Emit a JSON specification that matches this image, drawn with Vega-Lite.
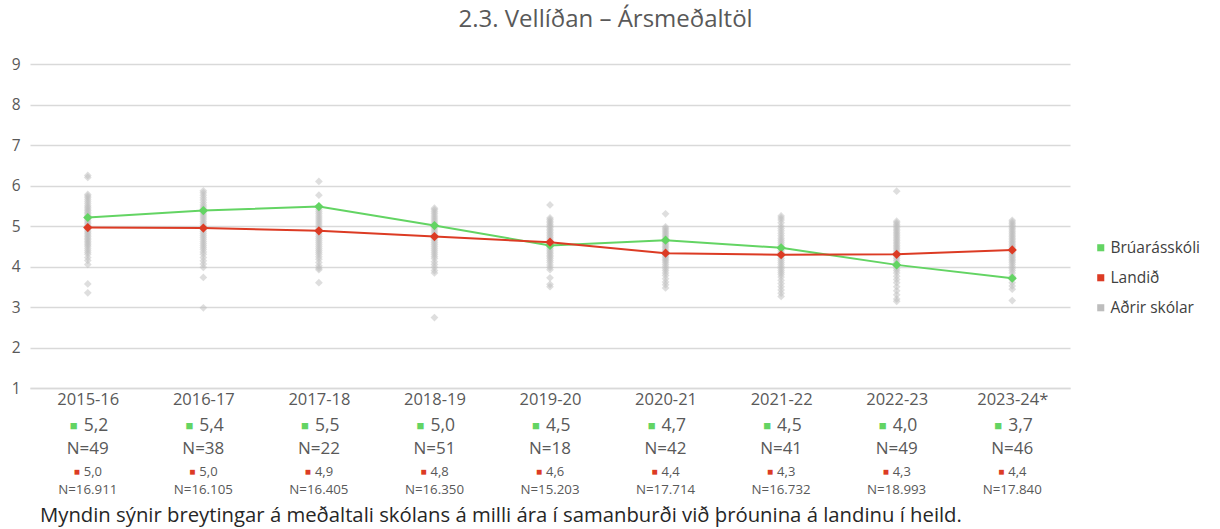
{
  "$schema": "https://vega.github.io/schema/vega-lite/v6.json",
  "background": "white",
  "padding": {"left": 11, "top": 8, "right": 5, "bottom": 5},
  "title": {"text": "2.3. Vellíðan – Ársmeðaltöl", "fontSize": 24, "font": "Open Sans", "fontWeight": "normal", "color": "#595959", "anchor": "middle", "offset": 25},
  "config": {"view": {"stroke": null}, "font": "Open Sans"},
  "spacing": 9,
  "datasets": {
    "series": [
      {"year": "2015-16", "series": "Brúarásskóli", "v": 5.21},
      {"year": "2016-17", "series": "Brúarásskóli", "v": 5.38},
      {"year": "2017-18", "series": "Brúarásskóli", "v": 5.48},
      {"year": "2018-19", "series": "Brúarásskóli", "v": 5.01},
      {"year": "2019-20", "series": "Brúarásskóli", "v": 4.52},
      {"year": "2020-21", "series": "Brúarásskóli", "v": 4.65},
      {"year": "2021-22", "series": "Brúarásskóli", "v": 4.46},
      {"year": "2022-23", "series": "Brúarásskóli", "v": 4.04},
      {"year": "2023-24*", "series": "Brúarásskóli", "v": 3.71},
      {"year": "2015-16", "series": "Landið", "v": 4.96},
      {"year": "2016-17", "series": "Landið", "v": 4.95},
      {"year": "2017-18", "series": "Landið", "v": 4.88},
      {"year": "2018-19", "series": "Landið", "v": 4.74},
      {"year": "2019-20", "series": "Landið", "v": 4.6},
      {"year": "2020-21", "series": "Landið", "v": 4.33},
      {"year": "2021-22", "series": "Landið", "v": 4.29},
      {"year": "2022-23", "series": "Landið", "v": 4.3},
      {"year": "2023-24*", "series": "Landið", "v": 4.41}
    ],
    "labels": [
      {"year": "2015-16", "s": "5,2", "sn": "N=49", "l": "5,0", "ln": "N=16.911"},
      {"year": "2016-17", "s": "5,4", "sn": "N=38", "l": "5,0", "ln": "N=16.105"},
      {"year": "2017-18", "s": "5,5", "sn": "N=22", "l": "4,9", "ln": "N=16.405"},
      {"year": "2018-19", "s": "5,0", "sn": "N=51", "l": "4,8", "ln": "N=16.350"},
      {"year": "2019-20", "s": "4,5", "sn": "N=18", "l": "4,6", "ln": "N=15.203"},
      {"year": "2020-21", "s": "4,7", "sn": "N=42", "l": "4,4", "ln": "N=17.714"},
      {"year": "2021-22", "s": "4,5", "sn": "N=41", "l": "4,3", "ln": "N=16.732"},
      {"year": "2022-23", "s": "4,0", "sn": "N=49", "l": "4,3", "ln": "N=18.993"},
      {"year": "2023-24*", "s": "3,7", "sn": "N=46", "l": "4,4", "ln": "N=17.840"}
    ],
    "others": [
      {"year": "2015-16", "v": 6.25}, {"year": "2015-16", "v": 6.2}, {"year": "2015-16", "v": 5.78}, {"year": "2015-16", "v": 5.74}, {"year": "2015-16", "v": 5.7}, {"year": "2015-16", "v": 5.65}, {"year": "2015-16", "v": 5.6}, {"year": "2015-16", "v": 5.55}, {"year": "2015-16", "v": 5.5}, {"year": "2015-16", "v": 5.46}, {"year": "2015-16", "v": 5.42}, {"year": "2015-16", "v": 5.38}, {"year": "2015-16", "v": 5.34}, {"year": "2015-16", "v": 5.3}, {"year": "2015-16", "v": 5.26}, {"year": "2015-16", "v": 5.22}, {"year": "2015-16", "v": 5.18}, {"year": "2015-16", "v": 5.14}, {"year": "2015-16", "v": 5.1}, {"year": "2015-16", "v": 5.06}, {"year": "2015-16", "v": 5.02}, {"year": "2015-16", "v": 4.98}, {"year": "2015-16", "v": 4.94}, {"year": "2015-16", "v": 4.9}, {"year": "2015-16", "v": 4.86}, {"year": "2015-16", "v": 4.82}, {"year": "2015-16", "v": 4.78}, {"year": "2015-16", "v": 4.74}, {"year": "2015-16", "v": 4.7}, {"year": "2015-16", "v": 4.66}, {"year": "2015-16", "v": 4.62}, {"year": "2015-16", "v": 4.58}, {"year": "2015-16", "v": 4.54}, {"year": "2015-16", "v": 4.5}, {"year": "2015-16", "v": 4.45}, {"year": "2015-16", "v": 4.4}, {"year": "2015-16", "v": 4.35}, {"year": "2015-16", "v": 4.3}, {"year": "2015-16", "v": 4.22}, {"year": "2015-16", "v": 4.15}, {"year": "2015-16", "v": 4.05}, {"year": "2015-16", "v": 3.57}, {"year": "2015-16", "v": 3.35},
      {"year": "2016-17", "v": 5.87}, {"year": "2016-17", "v": 5.82}, {"year": "2016-17", "v": 5.76}, {"year": "2016-17", "v": 5.7}, {"year": "2016-17", "v": 5.64}, {"year": "2016-17", "v": 5.58}, {"year": "2016-17", "v": 5.52}, {"year": "2016-17", "v": 5.47}, {"year": "2016-17", "v": 5.42}, {"year": "2016-17", "v": 5.37}, {"year": "2016-17", "v": 5.32}, {"year": "2016-17", "v": 5.27}, {"year": "2016-17", "v": 5.22}, {"year": "2016-17", "v": 5.17}, {"year": "2016-17", "v": 5.12}, {"year": "2016-17", "v": 5.07}, {"year": "2016-17", "v": 5.02}, {"year": "2016-17", "v": 4.97}, {"year": "2016-17", "v": 4.92}, {"year": "2016-17", "v": 4.87}, {"year": "2016-17", "v": 4.82}, {"year": "2016-17", "v": 4.77}, {"year": "2016-17", "v": 4.72}, {"year": "2016-17", "v": 4.67}, {"year": "2016-17", "v": 4.62}, {"year": "2016-17", "v": 4.57}, {"year": "2016-17", "v": 4.52}, {"year": "2016-17", "v": 4.47}, {"year": "2016-17", "v": 4.42}, {"year": "2016-17", "v": 4.36}, {"year": "2016-17", "v": 4.3}, {"year": "2016-17", "v": 4.22}, {"year": "2016-17", "v": 4.14}, {"year": "2016-17", "v": 4.06}, {"year": "2016-17", "v": 3.98}, {"year": "2016-17", "v": 3.73}, {"year": "2016-17", "v": 2.98},
      {"year": "2017-18", "v": 6.1}, {"year": "2017-18", "v": 5.76}, {"year": "2017-18", "v": 5.45}, {"year": "2017-18", "v": 5.4}, {"year": "2017-18", "v": 5.35}, {"year": "2017-18", "v": 5.3}, {"year": "2017-18", "v": 5.25}, {"year": "2017-18", "v": 5.2}, {"year": "2017-18", "v": 5.15}, {"year": "2017-18", "v": 5.1}, {"year": "2017-18", "v": 5.05}, {"year": "2017-18", "v": 5.0}, {"year": "2017-18", "v": 4.95}, {"year": "2017-18", "v": 4.9}, {"year": "2017-18", "v": 4.85}, {"year": "2017-18", "v": 4.8}, {"year": "2017-18", "v": 4.75}, {"year": "2017-18", "v": 4.7}, {"year": "2017-18", "v": 4.65}, {"year": "2017-18", "v": 4.6}, {"year": "2017-18", "v": 4.55}, {"year": "2017-18", "v": 4.5}, {"year": "2017-18", "v": 4.45}, {"year": "2017-18", "v": 4.4}, {"year": "2017-18", "v": 4.35}, {"year": "2017-18", "v": 4.3}, {"year": "2017-18", "v": 4.24}, {"year": "2017-18", "v": 4.18}, {"year": "2017-18", "v": 4.1}, {"year": "2017-18", "v": 4.02}, {"year": "2017-18", "v": 3.96}, {"year": "2017-18", "v": 3.92}, {"year": "2017-18", "v": 3.6},
      {"year": "2018-19", "v": 5.44}, {"year": "2018-19", "v": 5.4}, {"year": "2018-19", "v": 5.35}, {"year": "2018-19", "v": 5.3}, {"year": "2018-19", "v": 5.25}, {"year": "2018-19", "v": 5.2}, {"year": "2018-19", "v": 5.15}, {"year": "2018-19", "v": 5.1}, {"year": "2018-19", "v": 5.05}, {"year": "2018-19", "v": 5.0}, {"year": "2018-19", "v": 4.95}, {"year": "2018-19", "v": 4.9}, {"year": "2018-19", "v": 4.85}, {"year": "2018-19", "v": 4.8}, {"year": "2018-19", "v": 4.75}, {"year": "2018-19", "v": 4.7}, {"year": "2018-19", "v": 4.65}, {"year": "2018-19", "v": 4.6}, {"year": "2018-19", "v": 4.55}, {"year": "2018-19", "v": 4.5}, {"year": "2018-19", "v": 4.45}, {"year": "2018-19", "v": 4.4}, {"year": "2018-19", "v": 4.35}, {"year": "2018-19", "v": 4.3}, {"year": "2018-19", "v": 4.25}, {"year": "2018-19", "v": 4.2}, {"year": "2018-19", "v": 4.12}, {"year": "2018-19", "v": 4.05}, {"year": "2018-19", "v": 3.98}, {"year": "2018-19", "v": 3.9}, {"year": "2018-19", "v": 3.84}, {"year": "2018-19", "v": 2.74},
      {"year": "2019-20", "v": 5.52}, {"year": "2019-20", "v": 5.2}, {"year": "2019-20", "v": 5.16}, {"year": "2019-20", "v": 5.12}, {"year": "2019-20", "v": 5.08}, {"year": "2019-20", "v": 5.04}, {"year": "2019-20", "v": 5.0}, {"year": "2019-20", "v": 4.96}, {"year": "2019-20", "v": 4.92}, {"year": "2019-20", "v": 4.88}, {"year": "2019-20", "v": 4.84}, {"year": "2019-20", "v": 4.8}, {"year": "2019-20", "v": 4.76}, {"year": "2019-20", "v": 4.72}, {"year": "2019-20", "v": 4.68}, {"year": "2019-20", "v": 4.64}, {"year": "2019-20", "v": 4.6}, {"year": "2019-20", "v": 4.56}, {"year": "2019-20", "v": 4.52}, {"year": "2019-20", "v": 4.48}, {"year": "2019-20", "v": 4.44}, {"year": "2019-20", "v": 4.4}, {"year": "2019-20", "v": 4.36}, {"year": "2019-20", "v": 4.32}, {"year": "2019-20", "v": 4.28}, {"year": "2019-20", "v": 4.24}, {"year": "2019-20", "v": 4.2}, {"year": "2019-20", "v": 4.15}, {"year": "2019-20", "v": 4.1}, {"year": "2019-20", "v": 4.04}, {"year": "2019-20", "v": 3.98}, {"year": "2019-20", "v": 3.92}, {"year": "2019-20", "v": 3.72}, {"year": "2019-20", "v": 3.56}, {"year": "2019-20", "v": 3.5},
      {"year": "2020-21", "v": 5.3}, {"year": "2020-21", "v": 4.98}, {"year": "2020-21", "v": 4.94}, {"year": "2020-21", "v": 4.9}, {"year": "2020-21", "v": 4.86}, {"year": "2020-21", "v": 4.82}, {"year": "2020-21", "v": 4.78}, {"year": "2020-21", "v": 4.74}, {"year": "2020-21", "v": 4.7}, {"year": "2020-21", "v": 4.66}, {"year": "2020-21", "v": 4.62}, {"year": "2020-21", "v": 4.58}, {"year": "2020-21", "v": 4.54}, {"year": "2020-21", "v": 4.5}, {"year": "2020-21", "v": 4.46}, {"year": "2020-21", "v": 4.42}, {"year": "2020-21", "v": 4.38}, {"year": "2020-21", "v": 4.34}, {"year": "2020-21", "v": 4.3}, {"year": "2020-21", "v": 4.26}, {"year": "2020-21", "v": 4.22}, {"year": "2020-21", "v": 4.18}, {"year": "2020-21", "v": 4.14}, {"year": "2020-21", "v": 4.1}, {"year": "2020-21", "v": 4.05}, {"year": "2020-21", "v": 4.0}, {"year": "2020-21", "v": 3.95}, {"year": "2020-21", "v": 3.9}, {"year": "2020-21", "v": 3.84}, {"year": "2020-21", "v": 3.78}, {"year": "2020-21", "v": 3.7}, {"year": "2020-21", "v": 3.62}, {"year": "2020-21", "v": 3.55}, {"year": "2020-21", "v": 3.47},
      {"year": "2021-22", "v": 5.25}, {"year": "2021-22", "v": 5.2}, {"year": "2021-22", "v": 5.15}, {"year": "2021-22", "v": 5.08}, {"year": "2021-22", "v": 5.0}, {"year": "2021-22", "v": 4.94}, {"year": "2021-22", "v": 4.88}, {"year": "2021-22", "v": 4.82}, {"year": "2021-22", "v": 4.76}, {"year": "2021-22", "v": 4.7}, {"year": "2021-22", "v": 4.65}, {"year": "2021-22", "v": 4.6}, {"year": "2021-22", "v": 4.55}, {"year": "2021-22", "v": 4.5}, {"year": "2021-22", "v": 4.45}, {"year": "2021-22", "v": 4.4}, {"year": "2021-22", "v": 4.35}, {"year": "2021-22", "v": 4.3}, {"year": "2021-22", "v": 4.25}, {"year": "2021-22", "v": 4.2}, {"year": "2021-22", "v": 4.15}, {"year": "2021-22", "v": 4.1}, {"year": "2021-22", "v": 4.05}, {"year": "2021-22", "v": 4.0}, {"year": "2021-22", "v": 3.95}, {"year": "2021-22", "v": 3.9}, {"year": "2021-22", "v": 3.85}, {"year": "2021-22", "v": 3.8}, {"year": "2021-22", "v": 3.74}, {"year": "2021-22", "v": 3.66}, {"year": "2021-22", "v": 3.58}, {"year": "2021-22", "v": 3.5}, {"year": "2021-22", "v": 3.42}, {"year": "2021-22", "v": 3.34}, {"year": "2021-22", "v": 3.26},
      {"year": "2022-23", "v": 5.86}, {"year": "2022-23", "v": 5.12}, {"year": "2022-23", "v": 5.08}, {"year": "2022-23", "v": 5.04}, {"year": "2022-23", "v": 5.0}, {"year": "2022-23", "v": 4.96}, {"year": "2022-23", "v": 4.92}, {"year": "2022-23", "v": 4.88}, {"year": "2022-23", "v": 4.84}, {"year": "2022-23", "v": 4.8}, {"year": "2022-23", "v": 4.76}, {"year": "2022-23", "v": 4.72}, {"year": "2022-23", "v": 4.68}, {"year": "2022-23", "v": 4.64}, {"year": "2022-23", "v": 4.6}, {"year": "2022-23", "v": 4.56}, {"year": "2022-23", "v": 4.52}, {"year": "2022-23", "v": 4.48}, {"year": "2022-23", "v": 4.44}, {"year": "2022-23", "v": 4.4}, {"year": "2022-23", "v": 4.36}, {"year": "2022-23", "v": 4.32}, {"year": "2022-23", "v": 4.28}, {"year": "2022-23", "v": 4.24}, {"year": "2022-23", "v": 4.2}, {"year": "2022-23", "v": 4.15}, {"year": "2022-23", "v": 4.1}, {"year": "2022-23", "v": 4.05}, {"year": "2022-23", "v": 4.0}, {"year": "2022-23", "v": 3.95}, {"year": "2022-23", "v": 3.9}, {"year": "2022-23", "v": 3.84}, {"year": "2022-23", "v": 3.76}, {"year": "2022-23", "v": 3.68}, {"year": "2022-23", "v": 3.6}, {"year": "2022-23", "v": 3.5}, {"year": "2022-23", "v": 3.4}, {"year": "2022-23", "v": 3.3}, {"year": "2022-23", "v": 3.2}, {"year": "2022-23", "v": 3.14},
      {"year": "2023-24*", "v": 5.14}, {"year": "2023-24*", "v": 5.1}, {"year": "2023-24*", "v": 5.06}, {"year": "2023-24*", "v": 5.02}, {"year": "2023-24*", "v": 4.98}, {"year": "2023-24*", "v": 4.94}, {"year": "2023-24*", "v": 4.9}, {"year": "2023-24*", "v": 4.86}, {"year": "2023-24*", "v": 4.82}, {"year": "2023-24*", "v": 4.78}, {"year": "2023-24*", "v": 4.74}, {"year": "2023-24*", "v": 4.7}, {"year": "2023-24*", "v": 4.66}, {"year": "2023-24*", "v": 4.62}, {"year": "2023-24*", "v": 4.58}, {"year": "2023-24*", "v": 4.54}, {"year": "2023-24*", "v": 4.5}, {"year": "2023-24*", "v": 4.46}, {"year": "2023-24*", "v": 4.42}, {"year": "2023-24*", "v": 4.38}, {"year": "2023-24*", "v": 4.34}, {"year": "2023-24*", "v": 4.3}, {"year": "2023-24*", "v": 4.26}, {"year": "2023-24*", "v": 4.22}, {"year": "2023-24*", "v": 4.18}, {"year": "2023-24*", "v": 4.14}, {"year": "2023-24*", "v": 4.1}, {"year": "2023-24*", "v": 4.05}, {"year": "2023-24*", "v": 4.0}, {"year": "2023-24*", "v": 3.95}, {"year": "2023-24*", "v": 3.9}, {"year": "2023-24*", "v": 3.84}, {"year": "2023-24*", "v": 3.76}, {"year": "2023-24*", "v": 3.68}, {"year": "2023-24*", "v": 3.6}, {"year": "2023-24*", "v": 3.52}, {"year": "2023-24*", "v": 3.44}, {"year": "2023-24*", "v": 3.16}
    ]
  },
  "vconcat": [
    {
      "width": 1040,
      "height": 324,
      "encoding": {
        "x": {"field": "year", "type": "nominal", "scale": {"domain": ["2015-16", "2016-17", "2017-18", "2018-19", "2019-20", "2020-21", "2021-22", "2022-23", "2023-24*"]}, "axis": {"labels": true, "labelAngle": 0, "labelFontSize": 16.5, "labelColor": "#595959", "labelFont": "Open Sans", "labelPadding": 3, "ticks": false, "title": null, "grid": false, "domain": true, "domainColor": "#d9d9d9", "domainWidth": 1.5}},
        "y": {"field": "v", "type": "quantitative", "scale": {"domain": [1, 9]}, "axis": {"values": [1, 2, 3, 4, 5, 6, 7, 8, 9], "title": null, "domain": false, "ticks": false, "labelFontSize": 15.5, "labelColor": "#595959", "labelPadding": 10, "labelFont": "Open Sans", "gridColor": "#d9d9d9", "gridWidth": 1.5}}
      },
      "layer": [
        {
          "data": {"name": "others"},
          "mark": {"type": "point", "shape": "diamond", "filled": true, "size": 60, "opacity": 0.5},
          "encoding": {
            "color": {"datum": "Aðrir skólar", "title": null, "scale": {"domain": ["Brúarásskóli", "Landið", "Aðrir skólar"], "range": ["#63d463", "#dc3b24", "#bdbdbd"]}, "legend": {"orient": "none", "legendX": 1063, "legendY": 176, "title": null, "symbolType": "square", "symbolSize": 50, "symbolOpacity": 1, "symbolStrokeWidth": 0, "labelFontSize": 15.5, "labelColor": "#404040", "labelFont": "Open Sans", "labelOffset": 2, "rowPadding": 13}}
          }
        },
        {
          "data": {"name": "series"},
          "mark": {"type": "line", "strokeWidth": 2},
          "encoding": {"color": {"field": "series", "type": "nominal", "title": null}}
        },
        {
          "data": {"name": "series"},
          "mark": {"type": "point", "shape": "diamond", "filled": true, "size": 85, "opacity": 1},
          "encoding": {"color": {"field": "series", "type": "nominal", "title": null}}
        }
      ]
    },
    {
      "width": 1040,
      "height": 69,
      "data": {"name": "labels"},
      "title": {"text": "Myndin sýnir breytingar á meðaltali skólans á milli ára í samanburði við þróunina á landinu í heild.", "orient": "bottom", "anchor": "start", "fontSize": 20.3, "fontWeight": "normal", "color": "#262626", "font": "Open Sans", "offset": 10, "dx": 10},
      "encoding": {
        "x": {"field": "year", "type": "nominal", "scale": {"domain": ["2015-16", "2016-17", "2017-18", "2018-19", "2019-20", "2020-21", "2021-22", "2022-23", "2023-24*"]}, "axis": null}
      },
      "layer": [
        {"mark": {"type": "text", "text": "■", "fontSize": 13, "color": "#63d463", "baseline": "middle", "dx": -14}, "encoding": {"y": {"datum": 0, "type": "quantitative", "scale": {"domain": [0, 3], "reverse": true}, "axis": null}}},
        {"mark": {"type": "text", "fontSize": 17.5, "color": "#595959", "baseline": "middle", "align": "left", "dx": -4}, "encoding": {"text": {"field": "s"}, "y": {"datum": 0, "type": "quantitative"}}},
        {"mark": {"type": "text", "fontSize": 17, "color": "#595959", "baseline": "middle"}, "encoding": {"text": {"field": "sn"}, "y": {"datum": 1, "type": "quantitative"}}},
        {"mark": {"type": "text", "text": "■", "fontSize": 10, "color": "#dc3b24", "baseline": "middle", "dx": -11}, "encoding": {"y": {"datum": 2, "type": "quantitative"}}},
        {"mark": {"type": "text", "fontSize": 13, "color": "#595959", "baseline": "middle", "align": "left", "dx": -4}, "encoding": {"text": {"field": "l"}, "y": {"datum": 2, "type": "quantitative"}}},
        {"mark": {"type": "text", "fontSize": 13.3, "color": "#595959", "baseline": "middle", "dy": -5}, "encoding": {"text": {"field": "ln"}, "y": {"datum": 3, "type": "quantitative"}}}
      ]
    }
  ]
}
